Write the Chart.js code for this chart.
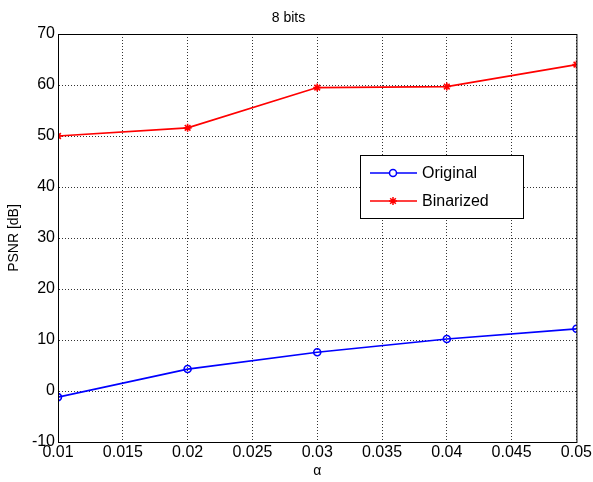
<!DOCTYPE html>
<html>
<head>
<meta charset="utf-8">
<script src="https://cdn.jsdelivr.net/npm/chart.js@4/dist/chart.umd.min.js"></script>
<style>
  html, body { margin: 0; padding: 0; background: #fff; }
  #wrap { width: 593px; height: 482px; }
</style>
</head>
<body>
<div id="wrap"><canvas id="psnrChart" width="593" height="482"></canvas></div>
<script>
// data
const alphas = [0.01, 0.02, 0.03, 0.04, 0.05];
const originalPsnr = [-1.2, 4.3, 7.6, 10.2, 12.2];
const binarizedPsnr = [50.0, 51.6, 59.5, 59.7, 64.0];
const xTickLabels = ['0.01', '0.015', '0.02', '0.025', '0.03', '0.035', '0.04', '0.045', '0.05'];
const yTickLabels = ['-10', '0', '10', '20', '30', '40', '50', '60', '70'];

const FONT = 'Liberation Sans, Arial, sans-serif';

// legend box drawn inside the plot, MATLAB style
const insideLegend = {
    id: 'insideLegend',
    afterDraw(chart) {
        const ctx = chart.ctx;
        const area = chart.chartArea;
        // black frame around plot
        ctx.save();
        ctx.strokeStyle = '#000';
        ctx.lineWidth = 1;
        ctx.strokeRect(area.left + 0.5, area.top + 0.5, area.right - area.left, area.bottom - area.top);

        const x = 360, y = 155, w = 163, h = 63;
        ctx.fillStyle = '#fff';
        ctx.fillRect(x, y, w, h);
        ctx.strokeRect(x + 0.5, y + 0.5, w, h);

        const items = chart.data.datasets;
        items.forEach((ds, i) => {
            const cy = y + 18 + i * 28;
            ctx.strokeStyle = ds.borderColor;
            ctx.lineWidth = 1.5;
            ctx.beginPath();
            ctx.moveTo(x + 10, cy);
            ctx.lineTo(x + 57, cy);
            ctx.stroke();
            Chart.helpers.drawPoint(ctx, {
                pointStyle: ds.pointStyle,
                radius: ds.pointRadius,
                borderWidth: ds.pointBorderWidth || 1.5
            }, x + 33, cy);
            ctx.fillStyle = '#000';
            ctx.font = '16px ' + FONT;
            ctx.textBaseline = 'middle';
            ctx.fillText(ds.label, x + 62, cy + 1);
        });
        ctx.restore();
    }
};

const ctx = document.getElementById('psnrChart').getContext('2d');
new Chart(ctx, {
    type: 'line',
    data: {
        datasets: [{
            label: 'Original',
            data: alphas.map((a, i) => ({ x: a, y: originalPsnr[i] })),
            borderColor: '#0000ff',
            backgroundColor: '#ffffff',
            borderWidth: 1.7,
            pointStyle: 'circle',
            pointRadius: 3.5,
            pointBorderWidth: 1.6,
            pointBorderColor: '#0000ff',
            pointBackgroundColor: 'rgba(0,0,0,0)',
            tension: 0
        }, {
            label: 'Binarized',
            data: alphas.map((a, i) => ({ x: a, y: binarizedPsnr[i] })),
            borderColor: '#ff0000',
            backgroundColor: '#ff0000',
            borderWidth: 1.7,
            pointStyle: 'star',
            pointRadius: 4,
            pointBorderWidth: 1.6,
            pointBorderColor: '#ff0000',
            pointBackgroundColor: '#ff0000',
            tension: 0
        }]
    },
    options: {
        responsive: false,
        animation: false,
        layout: { padding: { left: 0, right: 16, top: 0, bottom: 0 } },
        plugins: {
            legend: { display: false },
            tooltip: { enabled: false },
            title: {
                display: true,
                text: '8 bits',
                color: '#000',
                font: { family: FONT, size: 14, weight: 'normal' },
                padding: { top: 10, bottom: 7.2 }
            }
        },
        scales: {
            x: {
                type: 'linear',
                min: 0.01,
                max: 0.05,
                afterFit(scale) { scale.height = 40; },
                ticks: {
                    stepSize: 0.005,
                    color: '#000',
                    font: { family: FONT, size: 16 },
                    padding: 1,
                    maxRotation: 0,
                    callback: (v, i) => xTickLabels[i]
                },
                grid: { color: '#333', lineWidth: 1, tickLength: 0, drawTicks: false },
                border: { display: true, color: '#000', dash: [1, 2] },
                title: {
                    display: true,
                    text: 'α',
                    color: '#000',
                    font: { family: FONT, size: 14 },
                    padding: { top: 0, bottom: 2 }
                }
            },
            y: {
                min: -10,
                max: 70,
                afterFit(scale) { scale.width = 58; },
                ticks: {
                    stepSize: 10,
                    color: '#000',
                    font: { family: FONT, size: 16 },
                    padding: 3,
                    callback: (v, i) => yTickLabels[i]
                },
                grid: { color: '#333', lineWidth: 1, tickLength: 0, drawTicks: false },
                border: { display: true, color: '#000', dash: [1, 2] },
                title: {
                    display: true,
                    text: 'PSNR [dB]',
                    color: '#000',
                    font: { family: FONT, size: 14 },
                    padding: { top: 6, bottom: 2 }
                }
            }
        }
    },
    plugins: [insideLegend]
});
</script>
</body>
</html>
